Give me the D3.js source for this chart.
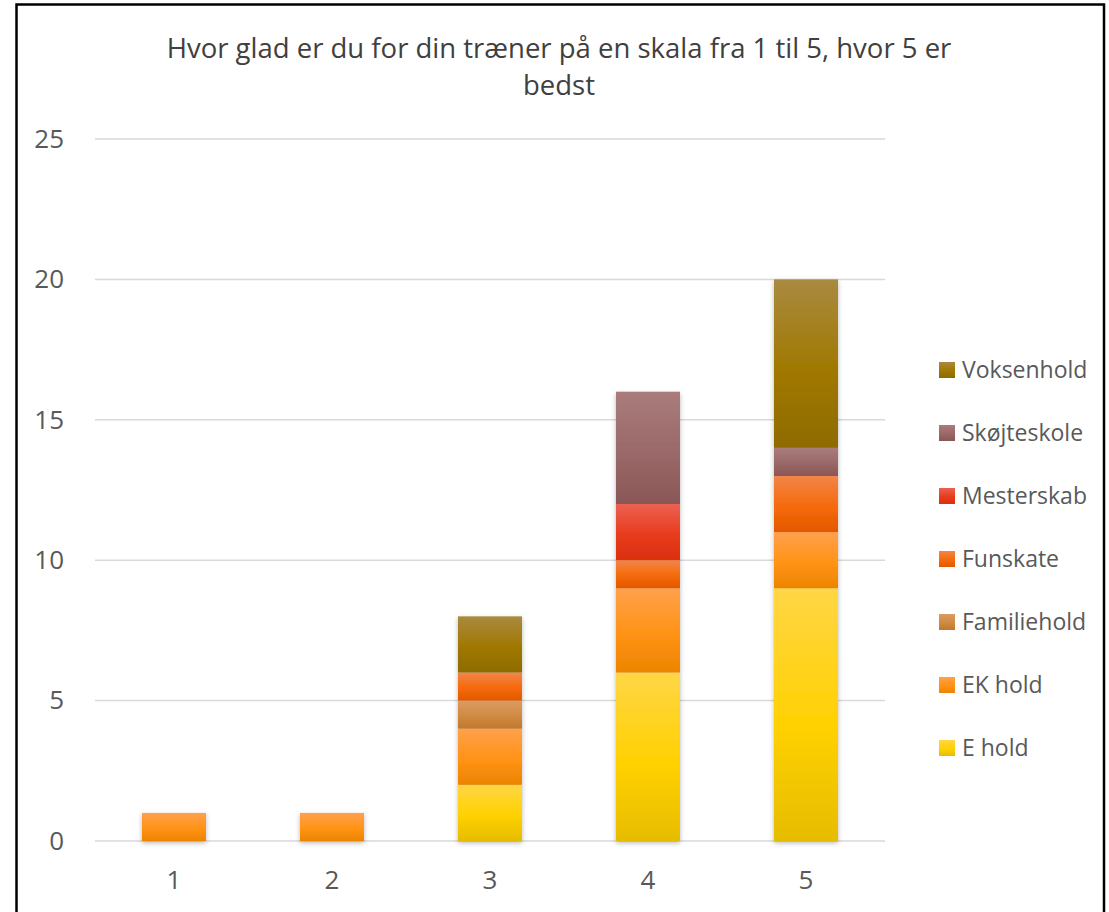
<!DOCTYPE html>
<html><head><meta charset="utf-8">
<script src="https://cdn.jsdelivr.net/npm/d3@7"></script>
<style>body{margin:0;background:#fff}svg{display:block}</style>
</head><body>
<svg id="c" width="1109" height="912"></svg>
<script>
const categories = ["1","2","3","4","5"];
const seriesNames = ["E hold","EK hold","Familiehold","Funskate","Mesterskab","Skøjteskole","Voksenhold"];
const eHold       = [0,0,2,6,9];
const ekHold      = [1,1,2,3,2];
const familiehold = [0,0,1,0,0];
const funskate    = [0,0,1,1,2];
const mesterskab  = [0,0,0,2,0];
const skojteskole = [0,0,0,4,1];
const voksenhold  = [0,0,2,0,6];
const yTicks = [0,5,10,15,20,25];
const titleLines = ["Hvor glad er du for din træner på en skala fra 1 til 5, hvor 5 er","bedst"];
const colors = [
  ["#FFD646","#FFD100","#E6BC00"],
  ["#FFA04C","#FF9315","#EC8400"],
  ["#DA9C62","#D08A42","#C2782C"],
  ["#F3854A","#F56A0A","#E25800"],
  ["#EC6050","#E83C1C","#DA300E"],
  ["#A97C7C","#9A6868","#8A5656"],
  ["#A98A40","#A07800","#8E6B00"]
];
const valuesBySeries = [eHold,ekHold,familiehold,funskate,mesterskab,skojteskole,voksenhold];

const svg = d3.select("#c");
const font = "'Open Sans', sans-serif";
const defs = svg.append("defs");
colors.forEach((c,i)=>{
  const g = defs.append("linearGradient").attr("id","g"+i).attr("x1",0).attr("y1",0).attr("x2",0).attr("y2",1);
  g.append("stop").attr("offset","0%").attr("stop-color",c[0]);
  g.append("stop").attr("offset","55%").attr("stop-color",c[1]);
  g.append("stop").attr("offset","100%").attr("stop-color",c[2]);
});
const f = defs.append("filter").attr("id","sh").attr("x","-30%").attr("y","-10%").attr("width","160%").attr("height","130%");
f.append("feDropShadow").attr("dx",0).attr("dy",2).attr("stdDeviation",2.5).attr("flood-color","#000").attr("flood-opacity",0.28);

// frame
svg.append("path").attr("d","M16.5,912 V4.5 H1104 V912").attr("fill","none").attr("stroke","#000").attr("stroke-width",2.5);

const x = d3.scaleBand().domain(categories).range([95,885]).paddingInner(0.595).paddingOuter(0.2975);
const y = d3.scaleLinear().domain([0,25]).range([841,139]);

// gridlines
svg.append("g").selectAll("line").data(yTicks).join("line")
  .attr("x1",95).attr("x2",885).attr("y1",d=>y(d)).attr("y2",d=>y(d))
  .attr("stroke","#D9D9D9").attr("stroke-width",1.5);

// y axis
const ya = svg.append("g").attr("transform","translate(95,0)")
  .call(d3.axisLeft(y).tickValues(yTicks).tickSize(0).tickPadding(31));
ya.select(".domain").remove();
ya.selectAll("text").attr("font-family",font).attr("font-size",26).attr("fill","#595959");

// x axis
const xa = svg.append("g").attr("transform","translate(0,841)")
  .call(d3.axisBottom(x).tickSize(0).tickPadding(30));
xa.select(".domain").remove();
xa.selectAll("text").attr("font-family",font).attr("font-size",26).attr("fill","#595959");

// stacks
const table = categories.map((c,i)=>{const o={cat:c}; seriesNames.forEach((s,j)=>o[s]=valuesBySeries[j][i]); return o;});
const stack = d3.stack().keys(seriesNames)(table);
const bars = svg.append("g").attr("filter","url(#sh)");
stack.forEach((layer,i)=>{
  bars.append("g").selectAll("rect").data(layer.filter(d=>d[1]-d[0]>0)).join("rect")
    .attr("x",d=>x(d.data.cat)).attr("width",x.bandwidth())
    .attr("y",d=>y(d[1])).attr("height",d=>y(d[0])-y(d[1]))
    .attr("fill","url(#g"+i+")");
});

// title
svg.append("g").selectAll("text").data(titleLines).join("text")
  .attr("x",559).attr("y",(d,i)=>58+i*37).attr("text-anchor","middle")
  .attr("font-family",font).attr("font-size",27.5).attr("fill","#404040").text(d=>d);

// legend
const legOrder = seriesNames.slice().reverse();
const lg = svg.append("g").selectAll("g").data(legOrder).join("g")
  .attr("transform",(d,i)=>`translate(939,${370+i*63})`);
lg.append("rect").attr("x",0).attr("y",-8).attr("width",16).attr("height",16)
  .attr("fill",d=>"url(#g"+seriesNames.indexOf(d)+")");
lg.append("text").attr("x",23).attr("y",8).attr("font-family",font).attr("font-size",23).attr("fill","#595959").text(d=>d);
</script>
</body></html>
